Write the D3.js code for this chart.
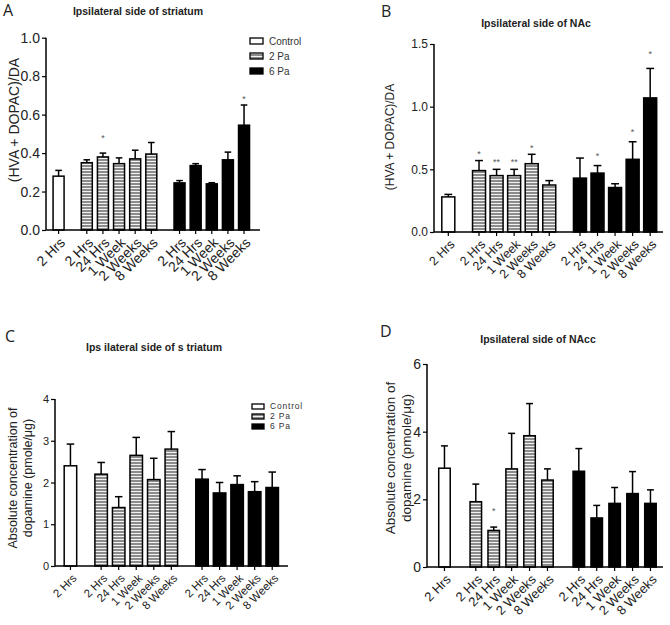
<!DOCTYPE html>
<html><head><meta charset="utf-8">
<script src="https://cdn.jsdelivr.net/npm/d3@7/dist/d3.min.js"></script>
<style>body{margin:0;background:#fff}svg{display:block}</style>
</head><body>
<svg id="c" width="670" height="625"></svg>
<script>
// ---- data ----
const groupNames = ["Control", "2 Pa", "6 Pa"];
const barGroups = [0, 1, 1, 1, 1, 1, 2, 2, 2, 2, 2];
const timeLabels = ["2 Hrs", "2 Hrs", "24 Hrs", "1 Week", "2 Weeks", "8 Weeks", "2 Hrs", "24 Hrs", "1 Week", "2 Weeks", "8 Weeks"];

// A: ratio, striatum
const ratioStriatumMean = [0.28, 0.35, 0.38, 0.345, 0.37, 0.395, 0.245, 0.335, 0.24, 0.365, 0.545];
const ratioStriatumErr  = [0.03, 0.015, 0.02, 0.03, 0.045, 0.06, 0.012, 0.01, 0.006, 0.04, 0.105];
const ratioStriatumStars = ["", "", "*", "", "", "", "", "", "", "", "*"];
const ratioStriatumStarAt = [0, 0, 0.49, 0, 0, 0, 0, 0, 0, 0, 0.69];
const ratioStriatumTicks = [0, 0.2, 0.4, 0.6, 0.8, 1.0];

// B: ratio, NAc
const ratioNAcMean = [0.28, 0.49, 0.45, 0.45, 0.545, 0.375, 0.43, 0.47, 0.355, 0.58, 1.07];
const ratioNAcErr  = [0.02, 0.08, 0.05, 0.05, 0.075, 0.035, 0.16, 0.06, 0.03, 0.14, 0.235];
const ratioNAcStars = ["", "*", "**", "**", "*", "", "", "*", "", "*", "*"];
const ratioNAcStarAt = [0, 0.64, 0.575, 0.575, 0.69, 0, 0, 0.62, 0, 0.81, 1.44];
const ratioNAcTicks = [0, 0.5, 1.0, 1.5];

// C: dopamine, striatum
const daStriatumMean = [2.4, 2.2, 1.4, 2.65, 2.07, 2.8, 2.08, 1.75, 1.95, 1.78, 1.88];
const daStriatumErr  = [0.52, 0.28, 0.26, 0.43, 0.51, 0.42, 0.23, 0.25, 0.21, 0.24, 0.37];
const daStriatumStars = ["", "", "", "", "", "", "", "", "", "", ""];
const daStriatumStarAt = [0, 0, 0, 0, 0, 0, 0, 0, 0, 0, 0];
const daStriatumTicks = [0, 1, 2, 3, 4];

// D: dopamine, NAcc
const daNAccMean = [2.92, 1.93, 1.08, 2.9, 3.88, 2.57, 2.83, 1.45, 1.88, 2.17, 1.88];
const daNAccErr  = [0.66, 0.52, 0.1, 1.05, 0.95, 0.33, 0.67, 0.37, 0.47, 0.65, 0.4];
const daNAccStars = ["", "", "*", "", "", "", "", "", "", "", ""];
const daNAccStarAt = [0, 0, 1.72, 0, 0, 0, 0, 0, 0, 0, 0];
const daNAccTicks = [0, 2, 4, 6];

// ---- drawing ----
const svg = d3.select("#c");
const defs = svg.append("defs");
const pat = defs.append("pattern").attr("id", "hatch").attr("patternUnits", "userSpaceOnUse")
  .attr("width", 6).attr("height", 3);
pat.append("rect").attr("width", 6).attr("height", 3).attr("fill", "#8c8c8c");
pat.append("rect").attr("y", 2).attr("width", 6).attr("height", 1).attr("fill", "#f2f2f2");

const fills = ["#fff", "url(#hatch)", "#000"];
const FONT = "Liberation Sans, Arial, sans-serif";

// slot index: control at 0, 2 Pa at 1.75.., 6 Pa at 7.5..
function slot(i) {
  const g = barGroups[i];
  if (g === 0) return 0;
  const first = barGroups.indexOf(g);
  return (g === 1 ? 1.75 : 7.5) + (i - first);
}

function panel(p) {
  const g = svg.append("g");
  const x = d3.scaleLinear().domain(p.dom).range([p.x0, p.x1]);
  const y = d3.scaleLinear().domain([0, p.ymax]).range([p.yb, p.yt]);
  const bw = p.bw;

  // error bars
  p.mean.forEach((m, i) => {
    const cx = x(slot(i));
    g.append("line").attr("x1", cx).attr("x2", cx).attr("y1", y(m)).attr("y2", y(m + p.err[i]))
      .attr("stroke", "#000").attr("stroke-width", 1.5);
    g.append("line").attr("x1", cx - bw * 0.3).attr("x2", cx + bw * 0.3)
      .attr("y1", y(m + p.err[i])).attr("y2", y(m + p.err[i]))
      .attr("stroke", "#000").attr("stroke-width", 1.5);
  });
  // bars
  g.selectAll("rect.bar").data(p.mean).enter().append("rect")
    .attr("x", (d, i) => x(slot(i)) - bw / 2)
    .attr("y", d => y(d))
    .attr("width", bw)
    .attr("height", d => y(0) - y(d))
    .attr("fill", (d, i) => fills[barGroups[i]])
    .attr("stroke", "#000").attr("stroke-width", 1.5);
  // stars
  p.stars.forEach((s, i) => {
    if (!s) return;
    g.append("text").attr("x", x(slot(i))).attr("y", y(p.starAt[i]) + 5)
      .attr("text-anchor", "middle").attr("font-family", FONT).attr("font-size", 9)
      .attr("fill", "#555").text(s);
  });

  // y axis
  const ya = g.append("g").attr("transform", `translate(${p.x0},0)`)
    .call(d3.axisLeft(y).tickValues(p.ticks).tickFormat(p.fmt).tickSize(4).tickPadding(2));
  ya.select(".domain").attr("stroke-width", 1.5).attr("d", `M0,${p.yt}V${p.yb}`);
  ya.selectAll(".tick line").attr("stroke-width", 1.2);
  ya.selectAll("text").attr("font-family", FONT).attr("font-size", p.fsY).attr("fill", "#222");

  // x axis
  const xa = g.append("g").attr("transform", `translate(0,${p.yb})`);
  xa.append("line").attr("x1", p.x0).attr("x2", p.x1).attr("stroke", "#000").attr("stroke-width", 1.5);
  timeLabels.forEach((t, i) => {
    const cx = x(slot(i));
    xa.append("line").attr("x1", cx).attr("x2", cx).attr("y1", 0).attr("y2", 4)
      .attr("stroke", "#000").attr("stroke-width", 1.2);
    xa.append("text").attr("transform", `translate(${cx + 4},${p.xlOff}) rotate(-45)`)
      .attr("text-anchor", "end").attr("dy", "0.35em")
      .attr("font-family", FONT).attr("font-size", p.fsX).attr("fill", "#222")
      .text(t);
  });

  // y label
  const yl = g.append("text").attr("transform", `translate(${p.ylx},${p.yly}) rotate(-90)`)
    .attr("text-anchor", "middle").attr("font-family", FONT).attr("font-size", p.fsL).attr("fill", "#222");
  p.ylab.forEach((l, k) => yl.append("tspan").attr("x", 0).attr("dy", k === 0 ? 0 : p.fsL * 1.2).text(l));

  // title
  g.append("text").attr("x", p.tx).attr("y", p.ty).attr("text-anchor", "middle")
    .attr("font-family", FONT).attr("font-weight", "bold").attr("font-size", p.fsT)
    .attr("letter-spacing", p.lsT || 0).attr("fill", "#222").text(p.title);
  // letter
  g.append("text").attr("x", p.lx).attr("y", p.ly).attr("font-family", "Open Sans, sans-serif")
    .attr("font-size", 16).attr("fill", "#222").text(p.letter);

  // legend
  if (p.leg) {
    groupNames.forEach((n, k) => {
      const ly = p.leg.y + k * p.leg.dy;
      g.append("rect").attr("x", p.leg.x).attr("y", ly).attr("width", p.leg.w).attr("height", p.leg.h)
        .attr("fill", fills[k]).attr("stroke", "#000").attr("stroke-width", 1.3);
      g.append("text").attr("x", p.leg.x + p.leg.w + 6).attr("y", ly + p.leg.h / 2).attr("dy", "0.35em")
        .attr("font-family", FONT).attr("font-size", p.leg.fs).attr("letter-spacing", p.leg.ls || 0)
        .attr("fill", "#333").text(n);
    });
  }
}

panel({
  mean: ratioStriatumMean, err: ratioStriatumErr, stars: ratioStriatumStars, starAt: ratioStriatumStarAt,
  ticks: ratioStriatumTicks, fmt: d3.format(".1f"), ymax: 1.0,
  x0: 46, x1: 260, dom: [-0.78, 12.49], yt: 37.7, yb: 230, bw: 11,
  fsY: 14, fsX: 14, fsL: 14, xlOff: 10,
  ylab: ["(HVA + DOPAC)/DA"], ylx: 19, yly: 120,
  title: "Ipsilateral side of striatum", tx: 138, ty: 15, fsT: 10.5,
  letter: "A", lx: 3, ly: 16,
  leg: { x: 250, y: 38, dy: 15, w: 13, h: 6, fs: 10 }
});

panel({
  mean: ratioNAcMean, err: ratioNAcErr, stars: ratioNAcStars, starAt: ratioNAcStarAt,
  ticks: ratioNAcTicks, fmt: d3.format(".1f"), ymax: 1.5,
  x0: 434, x1: 663, dom: [-0.815, 12.23], yt: 44, yb: 232, bw: 13,
  fsY: 12, fsX: 12.5, fsL: 12, xlOff: 10,
  ylab: ["(HVA + DOPAC)/DA"], ylx: 394, yly: 137,
  title: "Ipsilateral side of NAc", tx: 536, ty: 27, fsT: 10.5,
  letter: "B", lx: 381, ly: 17
});

panel({
  mean: daStriatumMean, err: daStriatumErr, stars: daStriatumStars, starAt: daStriatumStarAt,
  ticks: daStriatumTicks, fmt: d3.format("d"), ymax: 4,
  x0: 55, x1: 288, dom: [-0.88, 12.4], yt: 399, yb: 566, bw: 12.5,
  fsY: 11, fsX: 11.5, fsL: 12.5, xlOff: 10,
  ylab: ["Absolute concentration of", "dopamine (pmole/\u03bcg)"], ylx: 17, yly: 478,
  title: "Ips ilateral side of s triatum", tx: 154, ty: 351, fsT: 10.5,
  letter: "C", lx: 5, ly: 342,
  leg: { x: 252, y: 404, dy: 10, w: 12, h: 5, fs: 8.5, ls: 0.8 }
});

panel({
  mean: daNAccMean, err: daNAccErr, stars: daNAccStars, starAt: daNAccStarAt,
  ticks: daNAccTicks, fmt: d3.format("d"), ymax: 6,
  x0: 427, x1: 663, dom: [-0.975, 12.2], yt: 364, yb: 567, bw: 11.5,
  fsY: 14, fsX: 13, fsL: 13.5, xlOff: 10,
  ylab: ["Absolute concentration of", "dopamine (pmole/\u03bcg)"], ylx: 395, yly: 458,
  title: "Ipsilateral side of NAcc", tx: 538, ty: 343, fsT: 10.5,
  letter: "D", lx: 380, ly: 337
});
</script>
</body></html>
